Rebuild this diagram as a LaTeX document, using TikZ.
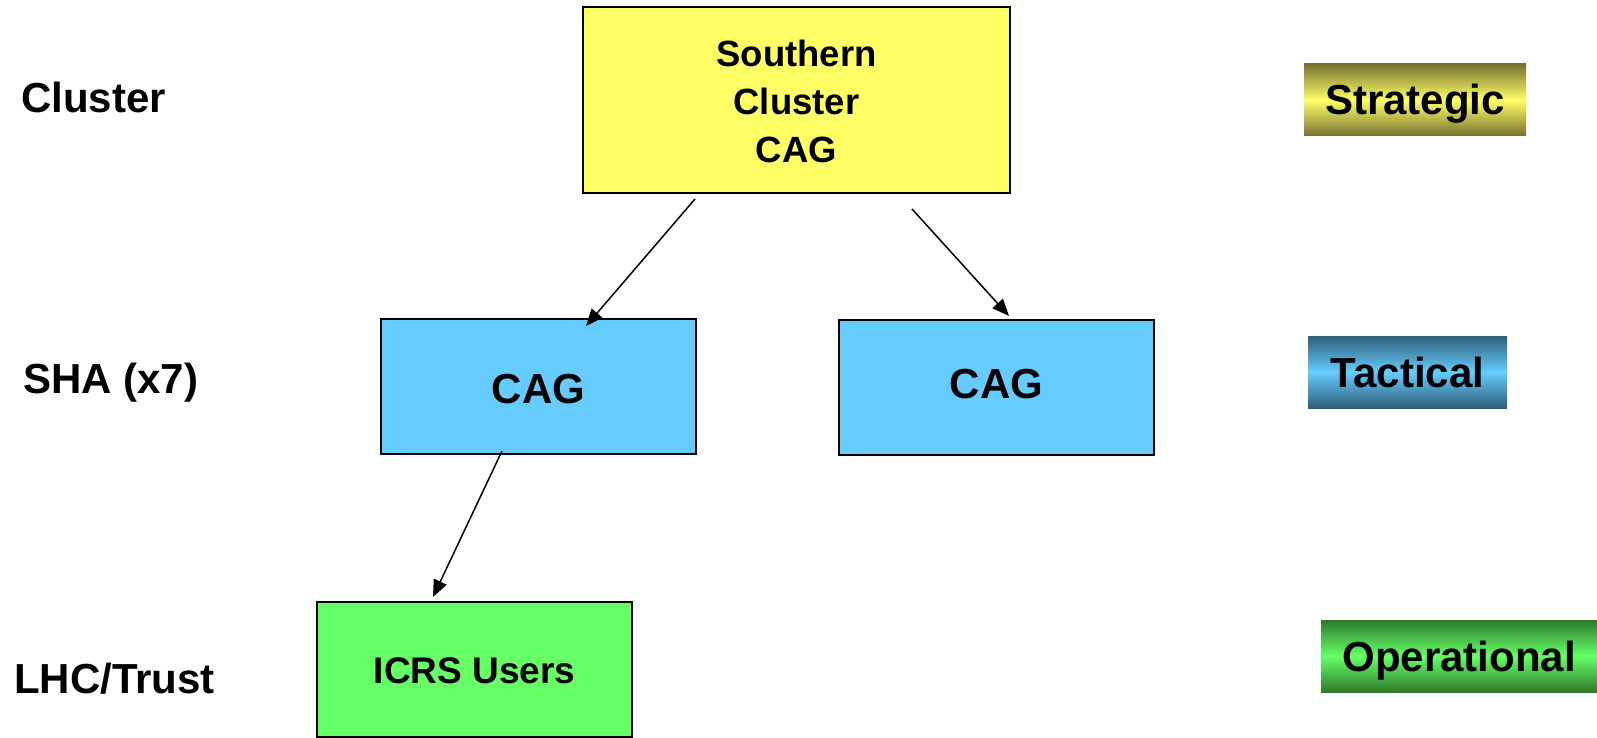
\documentclass[tikz,border=0pt]{standalone}
\usepackage{fontspec}
\setmainfont{Liberation Sans}
\usetikzlibrary{arrows.meta}
\definecolor{boxyellow}{HTML}{FFFF66}
\definecolor{boxblue}{HTML}{66CCFF}
\definecolor{boxgreen}{HTML}{66FF66}
\definecolor{olivedark}{HTML}{777230}
\definecolor{bluedark}{HTML}{2E5E78}
\definecolor{greendark}{HTML}{2E7A2E}
\begin{document}
\begin{tikzpicture}[x=1pt,y=-1pt,
  level/.style={anchor=base west,inner sep=0pt,font=\fontsize{42}{48}\selectfont\bfseries},
  unit/.style={draw=black,line width=2pt,inner sep=0pt,align=center},
  tag/.style={inner sep=0pt,text height=30pt,text depth=0pt,
              font=\fontsize{42}{48}\selectfont\bfseries},
  arr/.style={line width=1.5pt,-{Triangle[length=17pt,width=14pt]}}]
  \useasboundingbox (0,0) rectangle (1597,738);

  % tier labels on the left
  \node[level] (lcluster) at (21,113) {Cluster};
  \node[level] (lsha) at (23,393) {SHA (x7)};
  \node[level] (llhc) at (14,693) {LHC/Trust};

  % organisation boxes
  \node[unit,fill=boxyellow,minimum width=427pt,minimum height=186pt,
        font=\fontsize{36.5}{48}\selectfont\bfseries] (cluster) at (796.5,100)
        {\rule{0pt}{30pt}Southern\\Cluster\\CAG};
  \node[unit,fill=boxblue,minimum width=315pt,minimum height=135pt,
        text height=33pt,text depth=0pt,
        font=\fontsize{42}{48}\selectfont\bfseries] (cag1) at (538.5,386.5) {CAG};
  \node[unit,fill=boxblue,minimum width=315pt,minimum height=135pt,
        text height=30pt,text depth=9pt,
        font=\fontsize{42}{48}\selectfont\bfseries] (cag2) at (996.5,387.5) {CAG};
  \node[unit,fill=boxgreen,minimum width=315pt,minimum height=135pt,
        text height=27pt,text depth=0pt,
        font=\fontsize{37}{48}\selectfont\bfseries] (icrs) at (474.5,669.5) {ICRS Users};

  % role tags on the right
  \node[tag,minimum width=222pt,minimum height=72pt,
        top color=olivedark,bottom color=olivedark,middle color=boxyellow] (strat) at (1415,100) {Strategic};
  \node[tag,minimum width=199pt,minimum height=72pt,
        top color=bluedark,bottom color=bluedark,middle color=boxblue] (tact) at (1407.5,372) {Tactical};
  \node[tag,minimum width=276pt,minimum height=72pt,
        top color=greendark,bottom color=greendark,middle color=boxgreen] (oper) at (1459,656) {Operational};

  % reporting lines
  \draw[arr] ([shift={(-101.5,5)}]cluster.south) -- ([shift={(47.5,8)}]cag1.north);
  \draw[arr] ([shift={(115.5,15)}]cluster.south) -- ([shift={(12.5,-3)}]cag2.north);
  \draw[arr] ([shift={(-36.5,-4)}]cag1.south) -- ([shift={(-41.5,-4)}]icrs.north);
\end{tikzpicture}
\end{document}
